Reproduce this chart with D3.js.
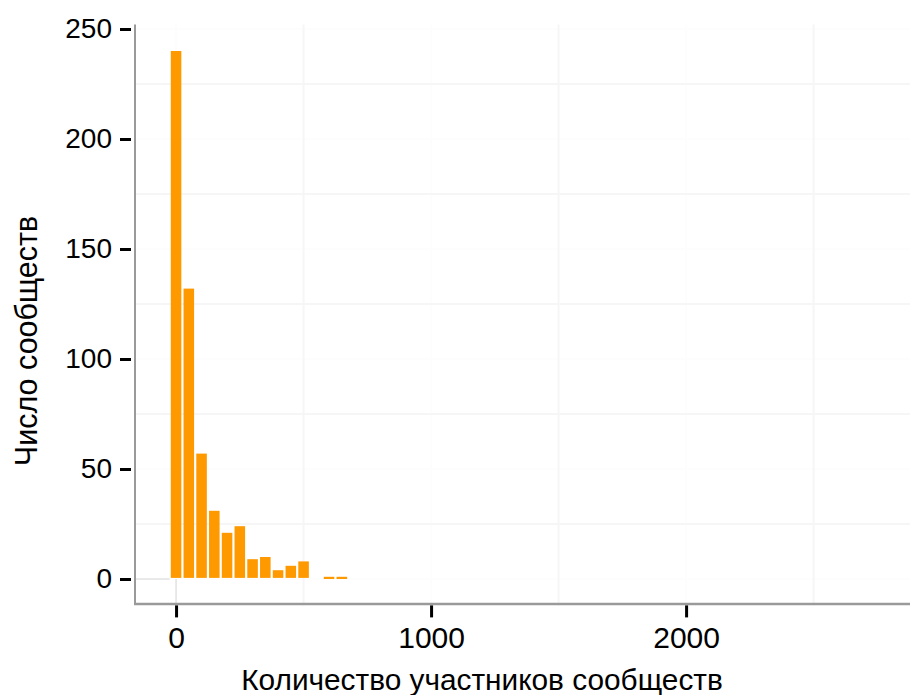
<!DOCTYPE html>
<html>
<head>
<meta charset="utf-8">
<script src="https://cdn.jsdelivr.net/npm/d3@7"></script>
<style>
  html, body { margin: 0; padding: 0; background: #ffffff; }
  svg { display: block; font-family: "Liberation Sans", Arial, sans-serif; }
</style>
</head>
<body>
<svg id="chart" width="910" height="695"></svg>
<script>
// ---- data (histogram, bin width 50, bins centred on these values) ----
const binCenters = [0, 50, 100, 150, 200, 250, 300, 350, 400, 450, 500, 550, 600, 650];
const binCounts  = [240, 132, 57, 31, 21, 24, 9, 10, 4, 6, 8, 0, 1, 1];
const binWidth = 50;
const xTicks = [0, 1000, 2000];
const xMinorTicks = [500, 1500, 2500];
const yTicks = [0, 50, 100, 150, 200, 250];
const yMinorTicks = [25, 75, 125, 175, 225];
const xTitle = "Количество участников сообществ";
const yTitle = "Число сообществ";

(function () {
const svg = d3.select("#chart");
const pL = 135, pR = 910, pT = 24.6, pB = 605.4;

const x = d3.scaleLinear().domain([-161, 2878]).range([pL, pR]);
const y = d3.scaleLinear().domain([-12, 252]).range([pB, pT]);

// grid
const grid = svg.append("g");
grid.selectAll(".vmaj").data(xTicks).join("line")
  .attr("x1", d => x(d)).attr("x2", d => x(d))
  .attr("y1", pT).attr("y2", pB)
  .attr("stroke", "#fdfdfd").attr("stroke-width", 2);
grid.selectAll(".hmaj").data(yTicks).join("line")
  .attr("x1", pL).attr("x2", pR)
  .attr("y1", d => y(d)).attr("y2", d => y(d))
  .attr("stroke", "#fdfdfd").attr("stroke-width", 2);
grid.selectAll(".vmin").data(xMinorTicks).join("line")
  .attr("x1", d => x(d)).attr("x2", d => x(d))
  .attr("y1", pT).attr("y2", pB)
  .attr("stroke", "#f6f6f6").attr("stroke-width", 2);
grid.selectAll(".hmin").data(yMinorTicks).join("line")
  .attr("x1", pL).attr("x2", pR)
  .attr("y1", d => y(d)).attr("y2", d => y(d))
  .attr("stroke", "#f6f6f6").attr("stroke-width", 2);
// zero lines visible near the corner
grid.append("line")
  .attr("x1", pL).attr("x2", x(binCenters[0] - binWidth / 2))
  .attr("y1", y(0)).attr("y2", y(0))
  .attr("stroke", "#e2e2e2").attr("stroke-width", 1.5);
grid.append("line")
  .attr("x1", x(0)).attr("x2", x(0))
  .attr("y1", y(0)).attr("y2", pB)
  .attr("stroke", "#e2e2e2").attr("stroke-width", 1.5);

// bars
const inset = 1.1;
svg.append("g").selectAll("rect")
  .data(binCenters.map((c, i) => ({c, n: binCounts[i]})).filter(d => d.n > 0))
  .join("rect")
  .attr("x", d => x(d.c - binWidth / 2) + inset)
  .attr("width", d => x(d.c + binWidth / 2) - x(d.c - binWidth / 2) - 2 * inset)
  .attr("y", d => y(d.n))
  .attr("height", d => Math.max(2.2, y(0) - y(d.n) - inset))
  .attr("fill", "#ff9900");

// axis lines
svg.append("line").attr("x1", pL).attr("x2", pL).attr("y1", pT).attr("y2", pB - 1)
  .attr("stroke", "#9a9a9a").attr("stroke-width", 2);
svg.append("line").attr("x1", pL - 1).attr("x2", pR).attr("y1", pB - 1.5).attr("y2", pB - 1.5)
  .attr("stroke", "#9a9a9a").attr("stroke-width", 2.5);

// y ticks
const yAxis = svg.append("g").attr("transform", `translate(${pL - 4},0)`)
  .call(d3.axisLeft(y).tickValues(yTicks).tickSize(11).tickPadding(8).tickFormat(d3.format("d")));
yAxis.select(".domain").remove();
yAxis.selectAll(".tick line").attr("stroke", "#000").attr("stroke-width", 3);
yAxis.selectAll(".tick text").attr("font-size", 28).attr("fill", "#000")
  .attr("font-family", "Liberation Sans, Arial, sans-serif");

// x ticks
const xAxis = svg.append("g").attr("transform", `translate(0,${pB})`)
  .call(d3.axisBottom(x).tickValues(xTicks).tickSize(12).tickPadding(9).tickFormat(d3.format("d")));
xAxis.select(".domain").remove();
xAxis.selectAll(".tick line").attr("stroke", "#000").attr("stroke-width", 3);
xAxis.selectAll(".tick text").attr("font-size", 30).attr("fill", "#000")
  .attr("font-family", "Liberation Sans, Arial, sans-serif");

// titles
svg.append("text").attr("x", 482).attr("y", 690).attr("text-anchor", "middle")
  .attr("font-size", 29.8).attr("fill", "#000").text(xTitle);
svg.append("text").attr("transform", "translate(37,341) rotate(-90)").attr("text-anchor", "middle")
  .attr("font-size", 30.5).attr("fill", "#000").text(yTitle);
})();
</script>
</body>
</html>
